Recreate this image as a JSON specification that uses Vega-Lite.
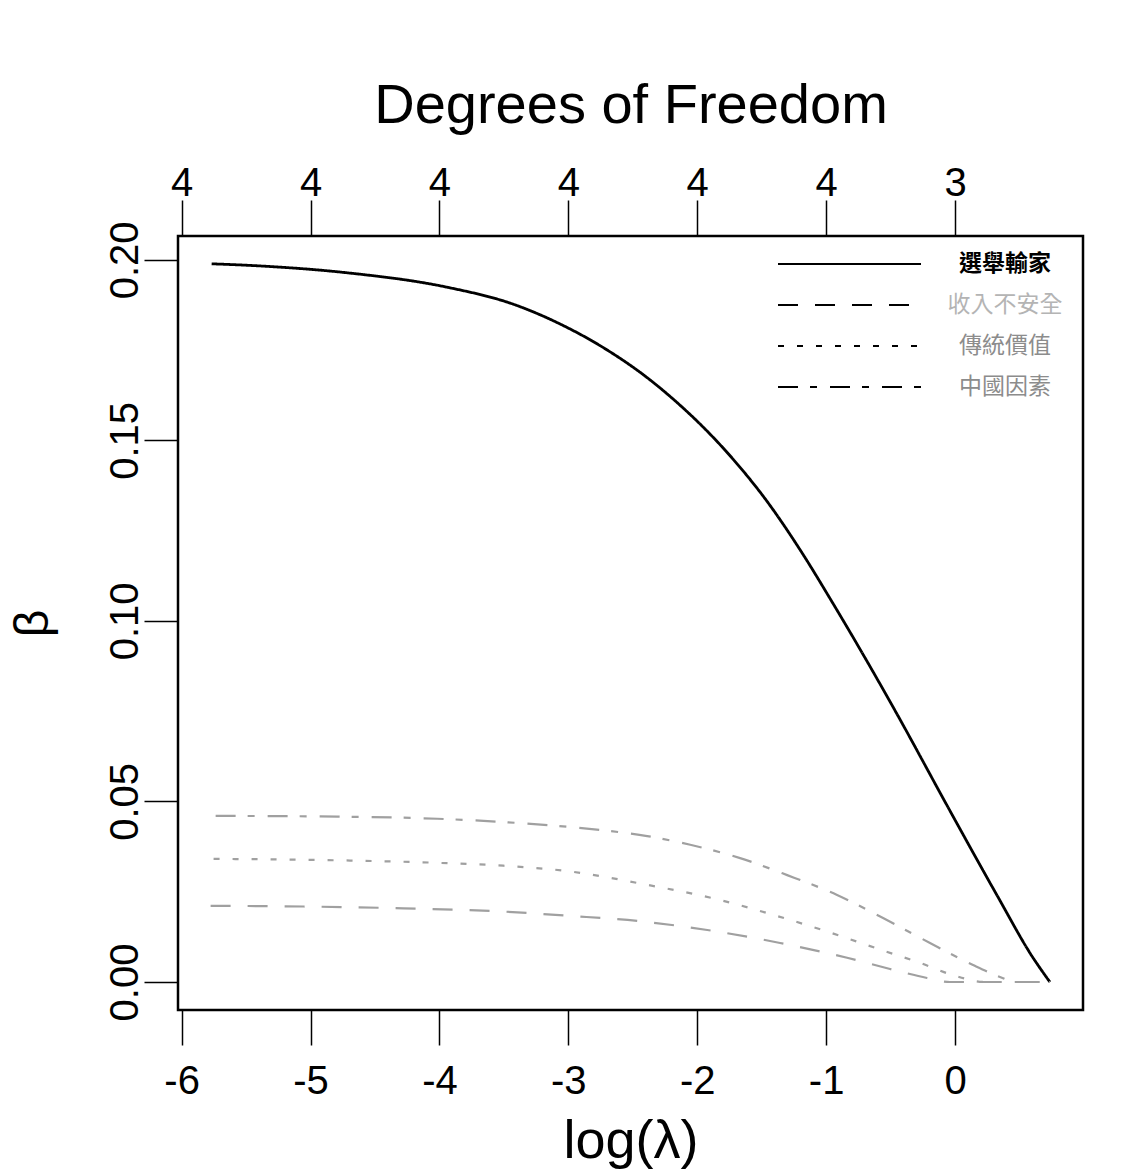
{
  "$schema": "https://vega.github.io/schema/vega-lite/v6.json",
  "width": 905,
  "height": 774,
  "autosize": {"type": "none"},
  "padding": {"left": 178, "top": 236, "right": 60, "bottom": 159},
  "background": "white",
  "config": {
    "font": "Liberation Sans",
    "view": {"stroke": "black", "strokeWidth": 2.5},
    "axis": {"grid": false, "domain": false, "tickColor": "black", "tickWidth": 1.5, "labelColor": "black", "titleColor": "black", "labelFont": "Liberation Sans", "titleFont": "Liberation Sans", "titleFontWeight": "normal"}
  },
  "data": {"values": [
    {"s": "選舉輸家", "x": -5.767, "y": 0.1989},
    {"s": "選舉輸家", "x": -5.388, "y": 0.1983},
    {"s": "選舉輸家", "x": -4.713, "y": 0.1964},
    {"s": "選舉輸家", "x": -3.938, "y": 0.1924},
    {"s": "選舉輸家", "x": -3.426, "y": 0.1877},
    {"s": "選舉輸家", "x": -3.062, "y": 0.1822},
    {"s": "選舉輸家", "x": -2.752, "y": 0.1762},
    {"s": "選舉輸家", "x": -2.364, "y": 0.1667},
    {"s": "選舉輸家", "x": -2.132, "y": 0.1597},
    {"s": "選舉輸家", "x": -1.977, "y": 0.1545},
    {"s": "選舉輸家", "x": -1.722, "y": 0.1448},
    {"s": "選舉輸家", "x": -1.458, "y": 0.1331},
    {"s": "選舉輸家", "x": -1.202, "y": 0.1197},
    {"s": "選舉輸家", "x": -0.946, "y": 0.1048},
    {"s": "選舉輸家", "x": -0.700, "y": 0.0899},
    {"s": "選舉輸家", "x": -0.450, "y": 0.0742},
    {"s": "選舉輸家", "x": -0.062, "y": 0.0489},
    {"s": "選舉輸家", "x": 0.326, "y": 0.0240},
    {"s": "選舉輸家", "x": 0.600, "y": 0.0070},
    {"s": "選舉輸家", "x": 0.736, "y": 0.0},
    {"s": "收入不安全", "x": -5.775, "y": 0.0211},
    {"s": "收入不安全", "x": -5.054, "y": 0.0209},
    {"s": "收入不安全", "x": -4.279, "y": 0.0204},
    {"s": "收入不安全", "x": -3.504, "y": 0.0195},
    {"s": "收入不安全", "x": -2.984, "y": 0.0183},
    {"s": "收入不安全", "x": -2.465, "y": 0.0169},
    {"s": "收入不安全", "x": -1.922, "y": 0.0144},
    {"s": "收入不安全", "x": -1.357, "y": 0.0108},
    {"s": "收入不安全", "x": -0.837, "y": 0.0067},
    {"s": "收入不安全", "x": -0.504, "y": 0.0036},
    {"s": "收入不安全", "x": -0.217, "y": 0.0011},
    {"s": "收入不安全", "x": -0.039, "y": 0.0},
    {"s": "收入不安全", "x": 0.736, "y": 0.0},
    {"s": "傳統價值", "x": -5.752, "y": 0.0341},
    {"s": "傳統價值", "x": -4.791, "y": 0.0337},
    {"s": "傳統價值", "x": -4.016, "y": 0.0330},
    {"s": "傳統價值", "x": -3.504, "y": 0.0322},
    {"s": "傳統價值", "x": -2.984, "y": 0.0306},
    {"s": "傳統價值", "x": -2.388, "y": 0.0269},
    {"s": "傳統價值", "x": -1.822, "y": 0.0227},
    {"s": "傳統價值", "x": -1.411, "y": 0.0186},
    {"s": "傳統價值", "x": -0.969, "y": 0.0137},
    {"s": "傳統價值", "x": -0.558, "y": 0.0087},
    {"s": "傳統價值", "x": -0.271, "y": 0.0053},
    {"s": "傳統價值", "x": -0.016, "y": 0.0019},
    {"s": "傳統價值", "x": 0.233, "y": 0.0},
    {"s": "傳統價值", "x": 0.736, "y": 0.0},
    {"s": "中國因素", "x": -5.736, "y": 0.0460},
    {"s": "中國因素", "x": -4.791, "y": 0.0458},
    {"s": "中國因素", "x": -4.016, "y": 0.0452},
    {"s": "中國因素", "x": -3.504, "y": 0.0443},
    {"s": "中國因素", "x": -2.984, "y": 0.0429},
    {"s": "中國因素", "x": -2.674, "y": 0.0418},
    {"s": "中國因素", "x": -2.388, "y": 0.0404},
    {"s": "中國因素", "x": -2.054, "y": 0.0380},
    {"s": "中國因素", "x": -1.667, "y": 0.0343},
    {"s": "中國因素", "x": -1.302, "y": 0.0296},
    {"s": "中國因素", "x": -0.915, "y": 0.0241},
    {"s": "中國因素", "x": -0.558, "y": 0.0177},
    {"s": "中國因素", "x": -0.194, "y": 0.0108},
    {"s": "中國因素", "x": 0.140, "y": 0.0047},
    {"s": "中國因素", "x": 0.349, "y": 0.0014},
    {"s": "中國因素", "x": 0.465, "y": 0.0},
    {"s": "中國因素", "x": 0.736, "y": 0.0}
  ]},
  "layer": [
    {
      "mark": {"type": "line", "interpolate": "monotone"},
      "encoding": {
        "x": {"field": "x", "type": "quantitative",
          "scale": {"domain": [-6.028, 0.993], "nice": false, "zero": false},
          "axis": {"orient": "bottom", "values": [-6, -5, -4, -3, -2, -1, 0], "labelExpr": "'' + datum.value", "tickSize": 35,
            "labelFontSize": 40, "labelBaseline": "alphabetic", "labelPadding": 48, "labelFlush": false,
            "title": "log(λ)", "titleFontSize": 54, "titleBaseline": "alphabetic", "titleY": 147}},
        "y": {"field": "y", "type": "quantitative",
          "scale": {"domain": [-0.00776, 0.2066], "nice": false, "zero": false},
          "axis": {"values": [0, 0.05, 0.1, 0.15, 0.2], "format": ".2f", "tickSize": 34,
            "labelFontSize": 40, "labelAngle": -90, "labelAlign": "center", "labelBaseline": "alphabetic", "labelPadding": 7, "labelFlush": false,
            "title": "β", "titleFontSize": 48, "titleAngle": -90, "titleBaseline": "alphabetic", "titleX": -131}},
        "color": {"condition": {"test": "datum.s == '選舉輸家'", "value": "black"}, "value": "#a0a0a0"},
        "strokeWidth": {"condition": {"test": "datum.s == '選舉輸家'", "value": 2.8}, "value": 2.2},
        "strokeDash": {"field": "s", "type": "nominal",
          "scale": {"domain": ["選舉輸家", "收入不安全", "傳統價值", "中國因素"], "range": [[1, 0], [20, 17], [6, 13], [20, 12, 7, 13]]},
          "legend": {"title": null, "orient": "none", "legendX": 599, "legendY": 13, "padding": 0,
            "symbolType": "stroke", "symbolSize": 20449, "symbolStrokeWidth": 2, "symbolStrokeColor": "black",
            "clipHeight": 30, "rowPadding": 11, "labelOffset": 83, "labelAlign": "center", "labelBaseline": "middle",
            "labelFont": "Noto Sans CJK TC", "labelFontSize": 23, "labelLimit": 300,
            "encode": {
              "symbols": {"update": {"stroke": {"value": "black"}, "strokeWidth": {"value": 2}}},
              "labels": {"update": {
                "fill": {"signal": "datum.label == '選舉輸家' ? 'black' : datum.label == '收入不安全' ? '#b4b4b4' : '#8c8c8c'"},
                "fontWeight": {"signal": "datum.label == '選舉輸家' ? 'bold' : 'normal'"}}}
            }}}
      }
    },
    {
      "mark": {"type": "rule", "opacity": 0},
      "encoding": {
        "x": {"field": "x", "type": "quantitative",
          "axis": {"orient": "top", "values": [-6, -5, -4, -3, -2, -1, 0], "labelExpr": "datum.value == 0 ? '3' : '4'", "tickSize": 36,
            "labelFontSize": 40, "labelBaseline": "alphabetic", "labelPadding": 5, "labelFlush": false,
            "title": "Degrees of Freedom", "titleFontSize": 56, "titleBaseline": "alphabetic", "titleY": -114}}
      }
    }
  ],
  "resolve": {"axis": {"x": "independent"}}
}
